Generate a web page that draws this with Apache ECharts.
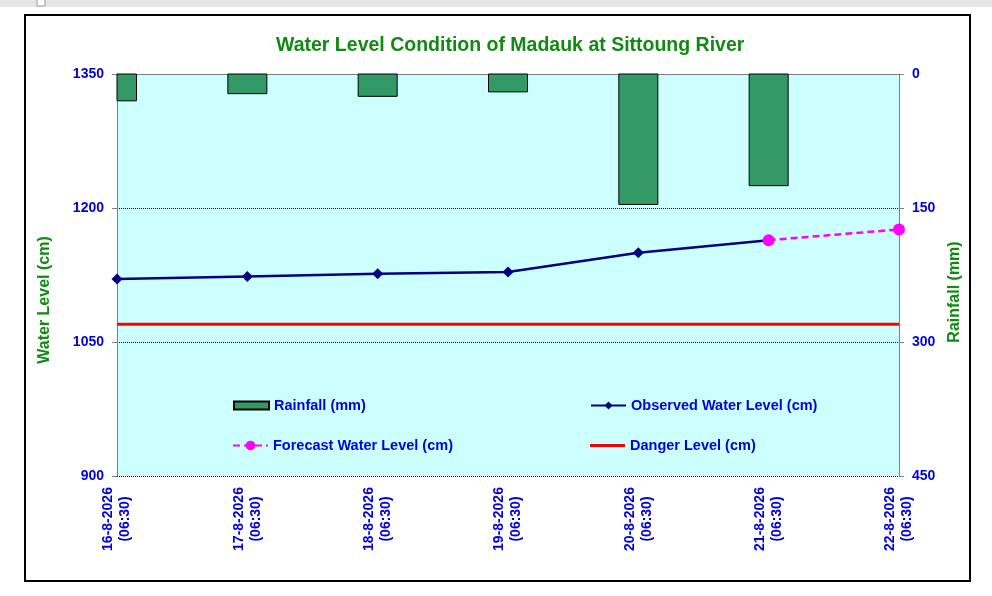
<!DOCTYPE html>
<html>
<head>
<meta charset="utf-8">
<title>Water Level Condition of Madauk at Sittoung River</title>
<script src="https://cdn.jsdelivr.net/npm/echarts@6/dist/echarts.min.js"></script>
<style>
  html, body { margin: 0; padding: 0; background: #fff; }
  #chart { width: 992px; height: 596px; }
</style>
</head>
<body>
<div id="chart"></div>
<script>
// dates along the bottom
var dates = ['16-8-2026\n(06:30)', '17-8-2026\n(06:30)', '18-8-2026\n(06:30)', '19-8-2026\n(06:30)',
  '20-8-2026\n(06:30)', '21-8-2026\n(06:30)', '22-8-2026\n(06:30)']
// rainfall (mm), right axis, hangs from the top
var rainfall = [30, 22, 25, 20, 146, 125]
// observed water level (cm)
var observed = [1120.5, 1123.4, 1126.4, 1128.3, 1150, 1164, '-']
// forecast water level (cm), starts from last observed point
var forecast = ['-', '-', '-', '-', '-', 1164, 1176]
// danger level (cm)
var danger = [1070, 1070, 1070, 1070, 1070, 1070, 1070]
var levelTicks = [900, 1350, 150]
var rainTicks = [0, 450, 150]

var blue = '#0000DD'
var green = '#118A11'
var font = 'Liberation Sans, Arial, sans-serif'

var chart = echarts.init(document.getElementById('chart'))

function legendAt (item, left, top, h) {
  return {
    data: [item],
    left: left,
    top: top,
    padding: 0,
    itemWidth: 35,
    itemHeight: h,
    selectedMode: false,
    textStyle: { color: blue, fontWeight: 'bold', fontSize: 14.5, fontFamily: font }
  }
}

// bars hang from rainfall 0 at the top; clipped to the plot like the original
function rainBar (params, api) {
  var x = api.value(0)
  var p0 = api.coord([x, 0])
  var p1 = api.coord([x, api.value(1)])
  var w = 39
  var cs = params.coordSys
  var rect = echarts.graphic.clipRectByRect(
    { x: p0[0] - w / 2, y: p0[1], width: w, height: p1[1] - p0[1] },
    { x: cs.x, y: cs.y, width: cs.width, height: cs.height }
  )
  if (!rect) return
  return {
    type: 'rect',
    shape: rect,
    style: { fill: '#339966', stroke: '#000', lineWidth: 1 }
  }
}

var option = {
  animation: false,
  backgroundColor: '#fff',
  title: {
    text: 'Water Level Condition of Madauk at Sittoung River',
    left: 276,
    top: 36,
    padding: 0,
    textStyle: { color: green, fontWeight: 'bold', fontSize: 19.5, fontFamily: font }
  },
  legend: [
    legendAt({ name: 'Rainfall (mm)', icon: 'rect' }, 233, 398, 8),
    legendAt('Observed Water Level (cm)', 590, 398, 10),
    legendAt('Forecast Water Level (cm)', 232, 438, 12),
    legendAt({ name: 'Danger Level (cm)', icon: 'rect' }, 590, 438, 3)
  ],
  grid: {
    left: 117, right: 93, top: 74, bottom: 120,
    show: true,
    backgroundColor: '#CCFFFF',
    borderWidth: 0
  },
  xAxis: {
    type: 'category',
    data: dates,
    boundaryGap: false,
    axisLine: { lineStyle: { color: '#808080', width: 1 } },
    axisTick: { show: true, length: 5, interval: 0, lineStyle: { color: '#808080' } },
    axisLabel: {
      interval: 0,
      rotate: 90,
      align: 'center',
      margin: 43,
      lineHeight: 17,
      color: blue,
      fontWeight: 'bold',
      fontSize: 14,
      fontFamily: font
    },
    splitLine: { show: false }
  },
  yAxis: [
    {
      type: 'value',
      min: levelTicks[0],
      max: levelTicks[1],
      interval: levelTicks[2],
      name: 'Water Level (cm)',
      nameLocation: 'middle',
      nameRotate: 90,
      nameGap: 64,
      nameTextStyle: { color: green, fontWeight: 'bold', fontSize: 16, fontFamily: font, padding: [0, 50, 0, 0] },
      axisLine: { show: true, lineStyle: { color: '#808080' } },
      axisTick: { show: true, length: 5, lineStyle: { color: '#808080' } },
      axisLabel: {
        color: blue, fontWeight: 'bold', fontSize: 14, fontFamily: font, margin: 13,
        formatter: function (v) { return String(v) }
      },
      splitLine: { show: true, lineStyle: { color: '#000', type: [1, 1], width: 1 } }
    },
    {
      type: 'value',
      min: rainTicks[0],
      max: rainTicks[1],
      interval: rainTicks[2],
      inverse: true,
      position: 'right',
      name: 'Rainfall (mm)',
      nameLocation: 'middle',
      nameRotate: 90,
      nameGap: 40,
      nameTextStyle: { color: green, fontWeight: 'bold', fontSize: 16, fontFamily: font, padding: [0, 34, 0, 0] },
      axisLine: { show: true, lineStyle: { color: '#808080' } },
      axisTick: { show: true, length: 5, lineStyle: { color: '#808080' } },
      axisLabel: { color: blue, fontWeight: 'bold', fontSize: 14, fontFamily: font, margin: 13 },
      splitLine: { show: false }
    }
  ],
  series: [
    {
      name: 'Rainfall (mm)',
      type: 'custom',
      yAxisIndex: 1,
      renderItem: rainBar,
      encode: { x: 0, y: 1 },
      data: rainfall.map(function (v, i) { return [i, v] }),
      itemStyle: { color: '#339966', borderColor: '#000', borderWidth: 1 }
    },
    {
      name: 'Danger Level (cm)',
      type: 'line',
      data: danger,
      symbol: 'none',
      lineStyle: { color: '#FF0000', width: 3 },
      itemStyle: { color: '#FF0000' }
    },
    {
      name: 'Observed Water Level (cm)',
      type: 'line',
      data: observed,
      symbol: 'diamond',
      symbolSize: 11,
      lineStyle: { color: '#000080', width: 2.5 },
      itemStyle: { color: '#000080' }
    },
    {
      name: 'Forecast Water Level (cm)',
      type: 'line',
      data: forecast,
      symbol: 'circle',
      symbolSize: 12,
      lineStyle: { color: '#FF00FF', width: 2.5, type: [7, 4] },
      itemStyle: { color: '#FF00FF' }
    }
  ],
  graphic: [
    { type: 'rect', shape: { x: 0, y: 0, width: 992, height: 7 }, style: { fill: '#E6E6E6' }, silent: true },
    { type: 'rect', shape: { x: 37, y: -1, width: 8, height: 7 }, style: { fill: '#fff', stroke: '#999', lineWidth: 1 }, silent: true },
    { type: 'rect', shape: { x: 25, y: 15, width: 945, height: 566 }, style: { fill: 'none', stroke: '#000', lineWidth: 2 }, silent: true }
  ]
}

chart.setOption(option)
</script>
</body>
</html>
